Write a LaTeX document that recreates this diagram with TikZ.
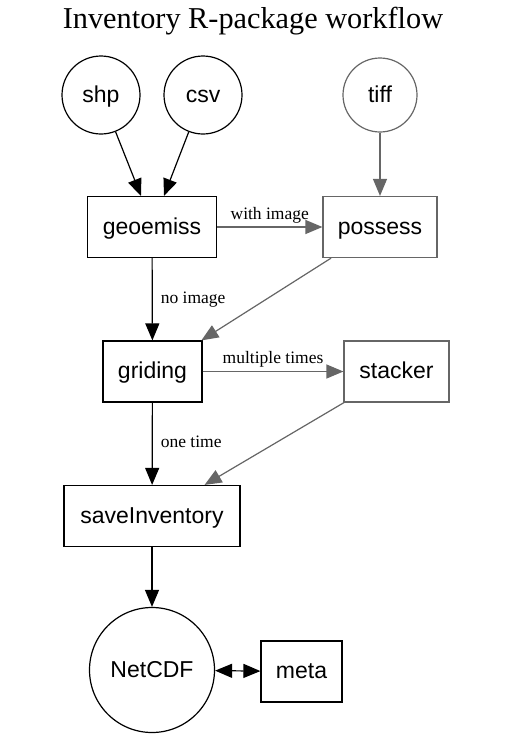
\documentclass[tikz,border=0pt]{standalone}
\usepackage{fontspec}
\setmainfont{Liberation Sans}
\newfontfamily\labelfont{Liberation Serif}
\usetikzlibrary{arrows.meta}
\definecolor{dimgray}{HTML}{666666}
\begin{document}
\begin{tikzpicture}[x=1pt,y=-1pt,line width=1.2pt]
\tikzstyle{every node}=[inner sep=0pt, font=\fontsize{23}{23}\selectfont, text height=18pt, text depth=4pt]
\tikzstyle{src}=[draw, circle, minimum size=78pt]
\tikzstyle{fn}=[draw, rectangle, minimum height=61pt]
\tikzstyle{opt}=[draw=dimgray, text=black]
\tikzstyle{edge}=[-{Triangle[length=17pt,width=14pt]}]
\tikzstyle{optedge}=[edge, draw=dimgray, fill=dimgray]
\tikzstyle{lbl}=[font=\labelfont\fontsize{17.5}{17.5}\selectfont, text height=12pt, text depth=4pt]
\useasboundingbox (0,0) rectangle (514,742);
\draw (253,28) node (title) [anchor=base, text height=, text depth=, font=\labelfont\fontsize{30.3}{30}\selectfont] {Inventory R-package workflow};
\draw (101,95) node (shp) [src] {shp};
\draw (203,95) node (csv) [src] {csv};
\draw (380,95) node (tiff) [src,opt,minimum size=74pt] {tiff};
\draw (152,227) node (geoemiss) [fn,minimum width=129pt] {geoemiss};
\draw (380,227) node (possess) [fn,opt,minimum width=114pt] {possess};
\draw (152.5,371.5) node (griding) [fn,minimum width=99pt] {griding};
\draw (396.5,371.5) node (stacker) [fn,opt,minimum width=105pt] {stacker};
\draw (152,516) node (saveInventory) [fn,minimum width=176pt] {saveInventory};
\draw (152,670) node (NetCDF) [src,minimum size=125pt] {NetCDF};
\draw (301.5,671.5) node (meta) [fn,minimum width=81pt] {meta};
\draw [edge] (shp) -- ([xshift=-11pt]geoemiss.north);
\draw [edge] (csv) -- ([xshift=12pt]geoemiss.north);
\draw [optedge] (tiff) -- (possess);
\draw [optedge] (geoemiss) -- node [lbl,above=3pt] {with image} (possess);
\draw [edge] (geoemiss) -- node [lbl,right=8pt] {no image} (griding);
\draw [optedge] (possess) -- (griding);
\draw [optedge] (griding) -- node [lbl,above=3pt] {multiple times} (stacker);
\draw [edge] (griding) -- node [lbl,right=8pt] {one time} (saveInventory);
\draw [optedge] (stacker) -- (saveInventory);
\draw [edge] (saveInventory) -- (NetCDF);
\draw [{Triangle[length=17pt,width=14pt]}-{Triangle[length=17pt,width=14pt]}] (NetCDF) -- (meta);
\end{tikzpicture}
\end{document}
